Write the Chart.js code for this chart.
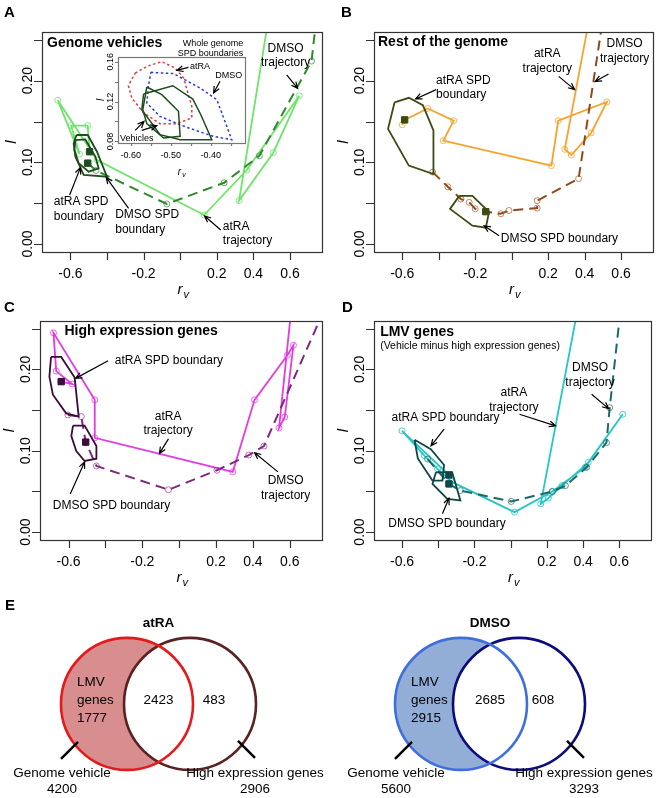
<!DOCTYPE html>
<html>
<head>
<meta charset="utf-8">
<script src="https://cdn.jsdelivr.net/npm/chart.js@4.4.1/dist/chart.umd.min.js"></script>
<style>
  body { margin: 0; background: #fff; }
  #fig { position: relative; width: 658px; height: 798px; font-family: "Liberation Sans", Arial, sans-serif; }
  #fig canvas { position: absolute; }
  .letter { position: absolute; font: bold 15px "Liberation Sans", Arial, sans-serif; line-height: 1; }
</style>
</head>
<body>
<div id="fig">
  <canvas id="cA" width="329" height="300" style="left:0;top:0"></canvas>
  <canvas id="cB" width="329" height="300" style="left:329px;top:0"></canvas>
  <canvas id="cC" width="329" height="300" style="left:0;top:300px"></canvas>
  <canvas id="cD" width="329" height="300" style="left:329px;top:300px"></canvas>
  <canvas id="cInset" width="155" height="140" style="left:95px;top:40px"></canvas>
  <canvas id="cE1" width="329" height="208" style="left:0;top:590px"></canvas>
  <canvas id="cE2" width="329" height="208" style="left:329px;top:590px"></canvas>
  <div class="letter" style="left:4px;top:4px">A</div>
  <div class="letter" style="left:341px;top:4px">B</div>
  <div class="letter" style="left:4px;top:299px">C</div>
  <div class="letter" style="left:342px;top:299px">D</div>
  <div class="letter" style="left:5px;top:597px">E</div>
</div>
<script>
// ===============================
// Dados
// ===============================
const FONT = '"Liberation Sans", Arial, sans-serif';

// eixos comuns
const xTickVals = [-0.6, -0.4, -0.2, 0, 0.2, 0.4, 0.6];
const xTickText = ["-0.6", "", "-0.2", "", "0.2", "0.4", "0.6"];
const yTickVals = [0, 0.05, 0.1, 0.15, 0.2, 0.25];
const yTickText = ["0.00", "", "0.10", "", "0.20", ""];

// A - Genome vehicles
const genomeAtra = [[-0.495, 0.113], [-0.505, 0.145], [-0.596, 0.145], [-0.55, 0.11], [-0.669, 0.176], [-0.4545, 0.1029], [0.131, 0.0355], [0.364, 0.0906], [0.651, 0.1816], [0.509, 0.1118], [0.322, 0.0531], [0.5, 0.3]];
const genomeDmso = [[-0.505, 0.099], [-0.46, 0.09], [-0.073, 0.049], [0.24, 0.075], [0.433, 0.108], [0.718, 0.224], [0.756, 0.3]];
const genomeSpdAtra = [[-0.567, 0.1335], [-0.505, 0.1335], [-0.4545, 0.113], [-0.4, 0.0824], [-0.527, 0.0845], [-0.573, 0.107], [-0.582, 0.123]];
const genomeSpdDmso = [[-0.573, 0.1273], [-0.518, 0.128], [-0.4636, 0.107], [-0.4455, 0.0927], [-0.5, 0.0886], [-0.5545, 0.0988], [-0.578, 0.115]];
const genomeCentres = [[-0.495, 0.113], [-0.505, 0.099]];

// A (inset) - whole genome SPD boundaries
const insetXTicks = [-0.6, -0.55, -0.5, -0.45, -0.4, -0.35];
const insetXText = ["-0.60", "", "-0.50", "", "-0.40", ""];
const insetYTicks = [0.08, 0.1, 0.12, 0.14, 0.16];
const insetYText = ["0.08", "", "0.12", "", "0.16"];
const wholeSpdAtra = [[-0.589, 0.1486], [-0.56, 0.1553], [-0.5225, 0.16], [-0.489, 0.1536], [-0.468, 0.1436], [-0.4475, 0.1152], [-0.4475, 0.1035], [-0.485, 0.0978], [-0.527, 0.0978], [-0.568, 0.1085], [-0.5975, 0.1235], [-0.606, 0.136]];
const wholeSpdDmso = [[-0.55, 0.1493], [-0.493, 0.148], [-0.427, 0.1336], [-0.385, 0.1219], [-0.3475, 0.0817], [-0.393, 0.085], [-0.46, 0.0941], [-0.527, 0.1051], [-0.56, 0.1185], [-0.556, 0.1353]];
const vehicleSpdAtra = [[-0.568, 0.1276], [-0.495, 0.1359], [-0.445, 0.1225], [-0.425, 0.1068], [-0.3975, 0.0817], [-0.4767, 0.0817], [-0.5267, 0.0868], [-0.5725, 0.1118]];
const vehicleSpdDmso = [[-0.56, 0.1346], [-0.5225, 0.1269], [-0.4808, 0.1102], [-0.4767, 0.0851], [-0.518, 0.0834], [-0.56, 0.0978], [-0.57, 0.1118]];

// B - Rest of the genome
const restAtra = [[-0.6, 0.146], [-0.587, 0.152], [-0.46, 0.166], [-0.318, 0.151], [-0.375, 0.1265], [0.218, 0.096], [0.255, 0.151], [0.522, 0.174], [0.436, 0.136], [0.327, 0.109], [0.291, 0.116], [0.446, 0.3]];
const restDmso = [[-0.433, 0.088], [-0.35, 0.07], [-0.278, 0.055], [-0.233, 0.051], [-0.2, 0.043], [-0.142, 0.0396], [-0.06, 0.037], [-0.015, 0.041], [0.14, 0.044], [0.14, 0.053], [0.367, 0.08], [0.517, 0.3]];
const restSpdAtra = [[-0.642, 0.1735], [-0.564, 0.179], [-0.487, 0.17], [-0.429, 0.139], [-0.429, 0.0857], [-0.564, 0.096], [-0.678, 0.141]];
const restSpdDmso = [[-0.287, 0.059], [-0.215, 0.059], [-0.124, 0.039], [-0.142, 0.02], [-0.215, 0.0225], [-0.338, 0.043]];
const restCentres = [[-0.587, 0.152], [-0.142, 0.0396]];

// C - High expression genes
const highAtra = [[-0.64, 0.185], [-0.58, 0.182], [-0.667, 0.198], [-0.682, 0.245], [-0.458, 0.1626], [-0.458, 0.1159], [0.291, 0.074], [0.409, 0.1626], [0.587, 0.2175], [0.62, 0.2297], [0.573, 0.1415], [0.542, 0.128], [0.62, 0.3]];
const highDmso = [[-0.604, 0.144], [-0.531, 0.142], [-0.507, 0.1106], [-0.449, 0.0813], [-0.058, 0.052], [0.205, 0.076], [0.378, 0.0947], [0.46, 0.1057], [0.8, 0.28]];
const highSpdAtra = [[-0.695, 0.2154], [-0.64, 0.2154], [-0.567, 0.19], [-0.545, 0.142], [-0.613, 0.146], [-0.685, 0.169], [-0.704, 0.191]];
const highSpdDmso = [[-0.576, 0.131], [-0.513, 0.131], [-0.449, 0.1057], [-0.449, 0.0902], [-0.513, 0.0874], [-0.558, 0.0996], [-0.585, 0.118]];
const highCentres = [[-0.64, 0.185], [-0.507, 0.1106]];

// D - LMV genes
const lmvAtra = [[-0.341, 0.0702], [-0.6, 0.1245], [-0.477, 0.0939], [-0.404, 0.0776], [-0.328, 0.062], [0.021, 0.0245], [0.23, 0.0498], [0.411, 0.0796], [0.619, 0.1449], [0.429, 0.0857], [0.284, 0.0571], [0.208, 0.0416], [0.166, 0.0347], [0.392, 0.3]];
const lmvDmso = [[-0.459, 0.0898], [-0.341, 0.0592], [-0.278, 0.051], [0.003, 0.0376], [0.23, 0.0498], [0.302, 0.057], [0.42, 0.0796], [0.529, 0.11], [0.547, 0.153], [0.62, 0.3]];
const lmvSpdAtra = [[-0.531, 0.1135], [-0.441, 0.102], [-0.368, 0.0824], [-0.377, 0.0633], [-0.432, 0.0633], [-0.513, 0.0906]];
const lmvSpdDmso = [[-0.413, 0.0735], [-0.323, 0.0735], [-0.278, 0.0388], [-0.35, 0.0408], [-0.432, 0.0592]];
const lmvCentres = [[-0.341, 0.0702], [-0.341, 0.0592]];

// E - Venn (vehicle, high expression, overlap)
const vennSetNames = ["Genome vehicle", "High expression genes"];
const atraVenn = [4200, 2906, 2423];
const dmsoVenn = [5600, 3293, 2685];

// ===============================
// Helpers
// ===============================
const xy = a => a.map(p => ({ x: p[0], y: p[1] }));
const ring = a => a.concat([a[0]]);

function drawArrow(ctx, x1, y1, x2, y2) {
  const a = Math.atan2(y2 - y1, x2 - x1), h = 7;
  ctx.beginPath();
  ctx.moveTo(x1, y1);
  ctx.lineTo(x2, y2);
  ctx.moveTo(x2 - h * Math.cos(a - 0.42), y2 - h * Math.sin(a - 0.42));
  ctx.lineTo(x2, y2);
  ctx.lineTo(x2 - h * Math.cos(a + 0.42), y2 - h * Math.sin(a + 0.42));
  ctx.stroke();
}

function drawRv(ctx, x, y, size) {
  ctx.save();
  ctx.textBaseline = "middle";
  ctx.textAlign = "left";
  ctx.font = `italic ${size}px ${FONT}`;
  const w = ctx.measureText("r").width;
  ctx.fillText("r", x - w / 2 - 2, y);
  ctx.font = `italic ${Math.round(size * 0.7)}px ${FONT}`;
  ctx.fillText("v", x + w / 2 - 1, y + size * 0.3);
  ctx.restore();
}

// moldura estilo R: caixa, ticks, rótulos, notas e setas
function frame(o) {
  return {
    id: "frame",
    beforeDatasetsDraw(chart) {
      if (!o.whiteArea) return;
      const ca = chart.chartArea, ctx = chart.ctx;
      ctx.save();
      ctx.fillStyle = "#fff";
      ctx.fillRect(ca.left, ca.top, ca.width, ca.height);
      ctx.restore();
    },
    afterDatasetsDraw(chart) {
      const { ctx, chartArea: ca } = chart;
      const sx = chart.scales.x, sy = chart.scales.y;
      ctx.save();
      ctx.strokeStyle = o.boxColor;
      ctx.lineWidth = 1.2;
      ctx.strokeRect(Math.round(ca.left) + 0.5, Math.round(ca.top) + 0.5, Math.round(ca.width), Math.round(ca.height));
      ctx.beginPath();
      o.xTicks.forEach(v => {
        const px = Math.round(sx.getPixelForValue(v)) + 0.5;
        ctx.moveTo(px, ca.bottom);
        ctx.lineTo(px, ca.bottom + o.tickLen);
      });
      o.yTicks.forEach(v => {
        const py = Math.round(sy.getPixelForValue(v)) + 0.5;
        ctx.moveTo(ca.left, py);
        ctx.lineTo(ca.left - o.tickLen, py);
      });
      ctx.stroke();

      ctx.fillStyle = "#000";
      ctx.font = `${o.tickSize}px ${FONT}`;
      ctx.textAlign = "center";
      ctx.textBaseline = "middle";
      o.xTicks.forEach((v, i) => {
        if (o.xLabels[i]) ctx.fillText(o.xLabels[i], sx.getPixelForValue(v), ca.bottom + o.xLabGap);
      });
      o.yTicks.forEach((v, i) => {
        if (!o.yLabels[i]) return;
        ctx.save();
        ctx.translate(ca.left - o.yLabGap, sy.getPixelForValue(v));
        ctx.rotate(-Math.PI / 2);
        ctx.fillText(o.yLabels[i], 0, 0);
        ctx.restore();
      });

      drawRv(ctx, (ca.left + ca.right) / 2, ca.bottom + o.xTitleGap, o.titleSize);
      ctx.save();
      ctx.translate(ca.left - o.yTitleGap, (ca.top + ca.bottom) / 2);
      ctx.rotate(-Math.PI / 2);
      ctx.font = `italic ${o.titleSize}px ${FONT}`;
      ctx.fillText("l", 0, 0);
      ctx.restore();

      (o.notes || []).forEach(n => {
        const size = n.size || 12, lh = n.lh || 14.5;
        ctx.font = `${n.bold ? "bold " : ""}${size}px ${FONT}`;
        ctx.textAlign = n.align || "left";
        const px = sx.getPixelForValue(n.x), py = sy.getPixelForValue(n.y);
        n.t.forEach((line, i) => ctx.fillText(line, px, py + i * lh));
      });

      ctx.strokeStyle = "#000";
      ctx.lineWidth = 1.2;
      (o.arrows || []).forEach(a => {
        drawArrow(ctx, sx.getPixelForValue(a[0]), sy.getPixelForValue(a[1]),
                  sx.getPixelForValue(a[2]), sy.getPixelForValue(a[3]));
      });
      ctx.restore();
    }
  };
}

const mainFrame = {
  xTicks: xTickVals, xLabels: xTickText, yTicks: yTickVals, yLabels: yTickText,
  tickLen: 8, tickSize: 14, xLabGap: 22, yLabGap: 14, titleSize: 15,
  xTitleGap: 38, yTitleGap: 30, boxColor: "#333"
};

function panel(id, c) {
  return new Chart(document.getElementById(id), {
    type: "scatter",
    data: {
      datasets: [
        { data: xy(c.centres), pointStyle: "rect", pointRadius: 4.5, backgroundColor: c.dark, borderColor: c.dark },
        { data: xy(ring(c.spdAtra)), showLine: true, borderColor: c.dark, borderWidth: 1.8, pointRadius: 0 },
        { data: xy(ring(c.spdDmso)), showLine: true, borderColor: c.dark, borderWidth: 1.8, pointRadius: 0 },
        { data: xy(c.dmso), showLine: true, borderColor: c.dmsoCol, borderWidth: 2, borderDash: [10, 6],
          pointRadius: 3, pointBorderWidth: 1, pointBorderColor: c.dmsoPt, pointBackgroundColor: "rgba(0,0,0,0)" },
        { data: xy(c.atra), showLine: true, borderColor: c.atraCol, borderWidth: 1.8,
          pointRadius: 3, pointBorderWidth: 1, pointBorderColor: c.atraPt, pointBackgroundColor: "rgba(0,0,0,0)" }
      ]
    },
    options: {
      responsive: false,
      animation: false,
      events: [],
      layout: { padding: c.pad, autoPadding: false },
      scales: {
        x: { type: "linear", display: false, min: -0.755, max: 0.775 },
        y: { type: "linear", display: false, min: -0.0098, max: 0.2596 }
      },
      plugins: { legend: { display: false }, tooltip: { enabled: false } }
    },
    plugins: [frame({ ...mainFrame, notes: c.notes, arrows: c.arrows })]
  });
}

// ===============================
// Painéis A-D
// ===============================
panel("cA", {
  atra: genomeAtra, dmso: genomeDmso, spdAtra: genomeSpdAtra, spdDmso: genomeSpdDmso, centres: genomeCentres,
  atraCol: "#6ee46a", atraPt: "rgba(110,228,106,0.8)", dmsoCol: "#2d8a2d", dmsoPt: "rgba(45,138,45,0.7)", dark: "#1e4d1e",
  pad: { left: 42, top: 32, right: 7, bottom: 48 },
  notes: [
    { t: ["Genome vehicles"], x: -0.727, y: 0.2457, bold: true, size: 14 },
    { t: ["Whole genome", "SPD boundaries"], x: 0.345, y: 0.2457, align: "right", size: 9, lh: 10 },
    { t: ["DMSO", "trajectory"], x: 0.576, y: 0.2396, align: "center" },
    { t: ["atRA SPD", "boundary"], x: -0.691, y: 0.0518 },
    { t: ["DMSO SPD", "boundary"], x: -0.355, y: 0.0355 },
    { t: ["atRA", "trajectory"], x: 0.233, y: 0.0212 }
  ],
  arrows: [
    [0.582, 0.207, 0.642, 0.1906],
    [-0.604, 0.06, -0.545, 0.0935],
    [-0.282, 0.0437, -0.404, 0.0816],
    [0.222, 0.0171, 0.133, 0.0343]
  ]
});

panel("cB", {
  atra: restAtra, dmso: restDmso, spdAtra: restSpdAtra, spdDmso: restSpdDmso, centres: restCentres,
  atraCol: "#f5a431", atraPt: "rgba(245,164,49,0.8)", dmsoCol: "#8e4a1c", dmsoPt: "rgba(170,90,40,0.7)", dark: "#3d4a12",
  pad: { left: 45, top: 32, right: 5, bottom: 48 },
  notes: [
    { t: ["Rest of the genome"], x: -0.733, y: 0.247, bold: true, size: 14 },
    { t: ["atRA SPD", "boundary"], x: -0.4145, y: 0.2 },
    { t: ["atRA", "trajectory"], x: 0.195, y: 0.2327, align: "center" },
    { t: ["DMSO", "trajectory"], x: 0.619, y: 0.2449, align: "center" },
    { t: ["DMSO SPD boundary"], x: -0.06, y: 0.0061 }
  ],
  arrows: [
    [-0.4145, 0.189, -0.527, 0.1776],
    [0.258, 0.2053, 0.345, 0.189],
    [0.531, 0.2082, 0.458, 0.199],
    [-0.069, 0.0102, -0.151, 0.0224]
  ]
});

panel("cC", {
  atra: highAtra, dmso: highDmso, spdAtra: highSpdAtra, spdDmso: highSpdDmso, centres: highCentres,
  atraCol: "#e43ae4", atraPt: "rgba(228,58,228,0.75)", dmsoCol: "#7d2a7d", dmsoPt: "rgba(150,60,150,0.7)", dark: "#3c0c3c",
  pad: { left: 40, top: 21, right: 7, bottom: 60 },
  notes: [
    { t: ["High expression genes"], x: -0.622, y: 0.247, bold: true, size: 14 },
    { t: ["atRA SPD boundary"], x: -0.349, y: 0.2106 },
    { t: ["atRA", "trajectory"], x: -0.06, y: 0.1423, align: "center" },
    { t: ["DMSO SPD boundary"], x: -0.6855, y: 0.0325 },
    { t: ["DMSO", "trajectory"], x: 0.578, y: 0.063, align: "center" }
  ],
  arrows: [
    [-0.3855, 0.2106, -0.562, 0.189],
    [-0.058, 0.1146, -0.107, 0.0967],
    [-0.591, 0.0467, -0.513, 0.0862],
    [0.536, 0.074, 0.409, 0.0976]
  ]
});

panel("cD", {
  atra: lmvAtra, dmso: lmvDmso, spdAtra: lmvSpdAtra, spdDmso: lmvSpdDmso, centres: lmvCentres,
  atraCol: "#26c6c6", atraPt: "rgba(38,198,198,0.8)", dmsoCol: "#1b6a68", dmsoPt: "rgba(27,106,104,0.7)", dark: "#0f4746",
  pad: { left: 45, top: 21, right: 7, bottom: 60 },
  notes: [
    { t: ["LMV genes"], x: -0.721, y: 0.246, bold: true, size: 14 },
    { t: ["(Vehicle minus high expression genes)"], x: -0.721, y: 0.2286, size: 10.5 },
    { t: ["DMSO", "trajectory"], x: 0.438, y: 0.202, align: "center" },
    { t: ["atRA", "trajectory"], x: 0.018, y: 0.1714, align: "center" },
    { t: ["atRA SPD boundary"], x: -0.658, y: 0.1408 },
    { t: ["DMSO SPD boundary"], x: -0.676, y: 0.0102 }
  ],
  arrows: [
    [0.447, 0.1694, 0.541, 0.1518],
    [0.0486, 0.1449, 0.248, 0.1306],
    [-0.368, 0.1265, -0.44, 0.1061],
    [-0.377, 0.0224, -0.341, 0.0416]
  ]
});

// ===============================
// Inset do painel A
// ===============================
new Chart(document.getElementById("cInset"), {
  type: "scatter",
  data: {
    datasets: [
      { data: xy(ring(vehicleSpdAtra)), showLine: true, borderColor: "#1e4d1e", borderWidth: 1.5, pointRadius: 0 },
      { data: xy(ring(vehicleSpdDmso)), showLine: true, borderColor: "#1e4d1e", borderWidth: 1.5, pointRadius: 0 },
      { data: xy(ring(wholeSpdAtra)), showLine: true, borderColor: "#e33b3b", borderWidth: 1.5, borderDash: [2.5, 2.5], pointRadius: 0 },
      { data: xy(ring(wholeSpdDmso)), showLine: true, borderColor: "#2a3fd0", borderWidth: 1.5, borderDash: [2.5, 2.5], pointRadius: 0 }
    ]
  },
  options: {
    responsive: false,
    animation: false,
    events: [],
    layout: { padding: { left: 23, top: 17, right: 5, bottom: 37 }, autoPadding: false },
    scales: {
      x: { type: "linear", display: false, min: -0.632, max: -0.3145 },
      y: { type: "linear", display: false, min: 0.0784, max: 0.1647 }
    },
    plugins: { legend: { display: false }, tooltip: { enabled: false } }
  },
  plugins: [frame({
    xTicks: insetXTicks, xLabels: insetXText, yTicks: insetYTicks, yLabels: insetYText,
    tickLen: 3, tickSize: 9, xLabGap: 13, yLabGap: 7, titleSize: 10,
    xTitleGap: 29, yTitleGap: 17, boxColor: "#777", whiteArea: true,
    notes: [
      { t: ["atRA"], x: -0.452, y: 0.1553, size: 9 },
      { t: ["DMSO"], x: -0.389, y: 0.146, size: 9 },
      { t: ["Vehicles"], x: -0.627, y: 0.0834, size: 9 }
    ],
    arrows: [
      [-0.456, 0.1543, -0.485, 0.1513],
      [-0.377, 0.1403, -0.393, 0.1286],
      [-0.589, 0.0911, -0.567, 0.1001],
      [-0.5725, 0.0911, -0.535, 0.0958]
    ]
  })]
});

// ===============================
// E - Venn
// ===============================
function venn(id, counts, title, cols, unit, cx0) {
  const [veh, high, both] = counts;
  const r = 66;
  const deco = {
    id: "venn",
    beforeDatasetsDraw(chart) {
      const p0 = chart.getDatasetMeta(0).data[0], p1 = chart.getDatasetMeta(1).data[0];
      const ctx = chart.ctx;
      ctx.save();
      ctx.beginPath();
      ctx.arc(p0.x, p0.y, r, 0, Math.PI * 2);
      ctx.clip();
      ctx.fillStyle = cols.fill;
      ctx.fill();
      ctx.beginPath();
      ctx.arc(p1.x, p1.y, r, 0, Math.PI * 2);
      ctx.fillStyle = "#fff";
      ctx.fill();
      ctx.restore();
    },
    afterDatasetsDraw(chart) {
      const p0 = chart.getDatasetMeta(0).data[0], p1 = chart.getDatasetMeta(1).data[0];
      const ctx = chart.ctx, mid = (p0.x + p1.x) / 2, cy = p0.y;
      ctx.save();
      ctx.fillStyle = "#000";
      ctx.textBaseline = "middle";
      ctx.textAlign = "center";
      ctx.font = `bold 13.5px ${FONT}`;
      ctx.fillText(title, mid, cy - 81);
      ctx.font = `13.5px ${FONT}`;
      ctx.fillText(String(both), mid, cy - 4);
      ctx.fillText(String(high - both), p1.x + 24, cy - 4);
      ctx.fillText(vennSetNames[0], p0.x - 65, cy + 69);
      ctx.fillText(String(veh), p0.x - 65, cy + 85);
      ctx.fillText(vennSetNames[1], p1.x + 65, cy + 69);
      ctx.fillText(String(high), p1.x + 65, cy + 85);
      ctx.textAlign = "left";
      ["LMV", "genes", String(veh - both)].forEach((s, i) => ctx.fillText(s, p0.x - 50, cy - 22 + i * 18));
      ctx.strokeStyle = "#000";
      ctx.lineWidth = 2.5;
      ctx.beginPath();
      ctx.moveTo(p0.x - 49, cy + 38);
      ctx.lineTo(p0.x - 66, cy + 55);
      ctx.moveTo(p1.x + 48, cy + 37);
      ctx.lineTo(p1.x + 65, cy + 54);
      ctx.stroke();
      ctx.restore();
    }
  };
  return new Chart(document.getElementById(id), {
    type: "scatter",
    data: {
      datasets: [
        { data: [{ x: 0, y: 0 }], pointRadius: r, borderWidth: 2.6, borderColor: cols.left, backgroundColor: "rgba(0,0,0,0)", clip: false },
        { data: [{ x: 1, y: 0 }], pointRadius: r, borderWidth: 2.6, borderColor: cols.right, backgroundColor: "rgba(0,0,0,0)", clip: false }
      ]
    },
    options: {
      responsive: false,
      animation: false,
      events: [],
      layout: { padding: 0, autoPadding: false },
      scales: {
        x: { type: "linear", display: false, min: -cx0 / unit, max: (329 - cx0) / unit },
        y: { type: "linear", display: false, min: -1, max: 1.21 }
      },
      plugins: { legend: { display: false }, tooltip: { enabled: false } }
    },
    plugins: [deco]
  });
}

venn("cE1", atraVenn, "atRA", { left: "#e41a1c", right: "#5a2222", fill: "#d88e8e" }, 63, 127);
venn("cE2", dmsoVenn, "DMSO", { left: "#3f6ee0", right: "#0c0c7c", fill: "#93aed6" }, 58, 132);
</script>
</body>
</html>
